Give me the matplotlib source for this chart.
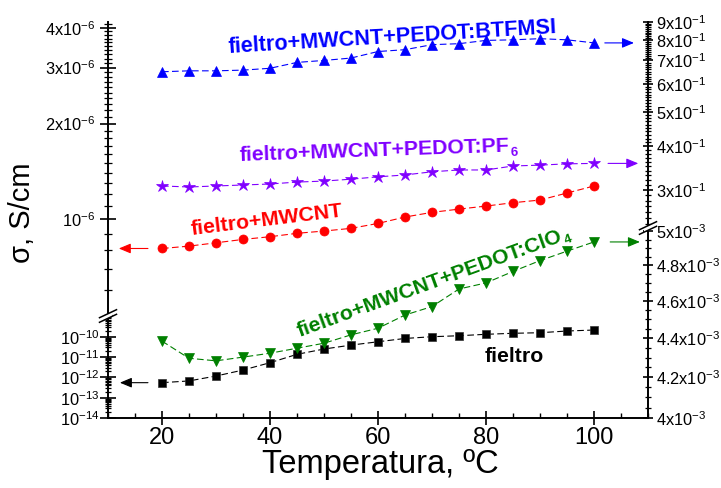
import numpy as np
import matplotlib
matplotlib.use("Agg")
import matplotlib.pyplot as plt
from matplotlib.ticker import FixedLocator, FixedFormatter, NullFormatter
from matplotlib.lines import Line2D
from matplotlib.patches import Polygon

plt.rcParams["font.family"] = ["Liberation Sans", "DejaVu Sans"]
plt.rcParams["mathtext.fontset"] = "custom"
plt.rcParams["mathtext.rm"] = "Liberation Sans"
plt.rcParams["mathtext.it"] = "Liberation Sans:italic"
plt.rcParams["mathtext.bf"] = "Liberation Sans:bold"
plt.rcParams["mathtext.default"] = "regular"

# ---- data: conductivity (S/cm) vs temperature (ºC) ----
temperature = [20, 25, 30, 35, 40, 45, 50, 55, 60, 65, 70, 75, 80, 85, 90, 95, 100]

sigma_fieltro = [5.5e-13, 6.7e-13, 1.17e-12, 2.3e-12, 5.3e-12, 1.37e-11, 2.5e-11,
                 3.9e-11, 5.7e-11, 8.3e-11, 1.01e-10, 1.13e-10, 1.33e-10, 1.49e-10,
                 1.59e-10, 1.93e-10, 2.16e-10]
sigma_mwcnt = [8.10e-7, 8.24e-7, 8.44e-7, 8.65e-7, 8.82e-7, 9.04e-7, 9.19e-7, 9.37e-7,
               9.71e-7, 1.017e-6, 1.052e-6, 1.077e-6, 1.101e-6, 1.128e-6, 1.150e-6,
               1.210e-6, 1.273e-6]
sigma_clo4 = [4.385e-3, 4.296e-3, 4.283e-3, 4.302e-3, 4.322e-3, 4.348e-3, 4.374e-3,
              4.418e-3, 4.453e-3, 4.524e-3, 4.570e-3, 4.667e-3, 4.701e-3, 4.766e-3,
              4.828e-3, 4.883e-3, 4.937e-3]
sigma_pf6 = [0.308, 0.306, 0.308, 0.310, 0.312, 0.316, 0.318, 0.322, 0.327, 0.331,
             0.338, 0.342, 0.342, 0.351, 0.353, 0.356, 0.357]
sigma_btfmsi = [0.650, 0.654, 0.654, 0.657, 0.665, 0.691, 0.700, 0.711, 0.742, 0.751,
                0.776, 0.781, 0.798, 0.801, 0.807, 0.801, 0.785]

x_major = [20, 40, 60, 80, 100]
lu_ticks = [1e-6, 2e-6, 3e-6, 4e-6]
lu_labels = ["$10^{-6}$", "2x10$^{-6}$", "3x10$^{-6}$", "4x10$^{-6}$"]
ll_ticks = [1e-14, 1e-13, 1e-12, 1e-11, 1e-10]
ll_labels = ["$10^{-14}$", "$10^{-13}$", "$10^{-12}$", "$10^{-11}$", "$10^{-10}$"]
ru_ticks = [0.3, 0.4, 0.5, 0.6, 0.7, 0.8, 0.9]
ru_labels = ["%dx10$^{-1}$" % k for k in range(3, 10)]
rl_ticks = [4.0e-3, 4.2e-3, 4.4e-3, 4.6e-3, 4.8e-3, 5.0e-3]
rl_labels = ["4x10$^{-3}$", "4.2x10$^{-3}$", "4.4x10$^{-3}$", "4.6x10$^{-3}$",
             "4.8x10$^{-3}$", "5x10$^{-3}$"]

C_BLUE, C_VIOLET, C_RED, C_GREEN, C_BLACK = "#0000ff", "#8000ff", "#ff0000", "#008000", "#000000"

# ---- figure geometry (pixels) ----
W, H = 721, 488
fig = plt.figure(figsize=(W / 100, H / 100), dpi=100)


def fx(x):
    return x / W


def fy(y):
    return 1 - y / H


def rect(l, t, r, b):
    return [fx(l), fy(b), fx(r) - fx(l), fy(t) - fy(b)]


L, R, T, B = 108, 648, 22, 418
LBRK, RBRK = 316, 228
SPW = 1.4
TICK_FS = 11.8

# base axes: temperature axis
ax = fig.add_axes(rect(L, T, R, B))
ax.set_xlim(10, 110)
ax.set_yticks([])
for s in ("left", "right", "top"):
    ax.spines[s].set_visible(False)
ax.spines["bottom"].set_linewidth(SPW)
ax.xaxis.set_major_locator(FixedLocator(x_major))
ax.xaxis.set_minor_locator(FixedLocator(np.arange(10, 111, 5)))
ax.tick_params(axis="x", which="major", direction="inout", length=9.5, width=1.2,
               labelsize=17, pad=1.8)
ax.tick_params(axis="x", which="minor", direction="in", length=3.8, width=1.0)
ax.patch.set_visible(False)


def overlay(top, bottom, side, ylim):
    a = fig.add_axes(rect(L, top, R, bottom))
    a.set_xlim(10, 110)
    a.set_yscale("log")
    a.set_ylim(*ylim)
    a.patch.set_visible(False)
    a.xaxis.set_visible(False)
    for s in ("left", "right", "top", "bottom"):
        a.spines[s].set_visible(s == side)
    a.spines[side].set_linewidth(SPW)
    if side == "right":
        a.yaxis.tick_right()
    return a


ax_lu = overlay(T, LBRK, "left", (4.97e-7, 4.17e-6))
ax_ll = overlay(LBRK, B, "left", (1e-14, 1.06e-9))
ax_ru = overlay(T, RBRK, "right", (0.234, 0.9))
ax_rl = overlay(RBRK, B, "right", (4.0e-3, 5.02e-3))


def set_ticks(a, major, labels, minor, maj_len, min_len, pad, side):
    a.yaxis.set_major_locator(FixedLocator(major))
    a.yaxis.set_major_formatter(FixedFormatter(labels))
    a.yaxis.set_minor_locator(FixedLocator(minor))
    a.yaxis.set_minor_formatter(NullFormatter())
    kw = dict(left=(side == "left"), right=(side == "right"),
              labelleft=(side == "left"), labelright=(side == "right"))
    a.tick_params(axis="y", which="major", direction="inout", length=maj_len, width=1.2,
                  labelsize=TICK_FS, pad=pad, **kw)
    a.tick_params(axis="y", which="minor", direction="inout", length=min_len, width=0.9, **kw)


lu_minor = [k * 1e-7 for k in range(5, 42) if k % 10]
set_ticks(ax_lu, lu_ticks, lu_labels, lu_minor, 12, 6, 3.4, "left")

ll_minor = [k * 10.0 ** d for d in range(-14, -9) for k in range(2, 10)]
set_ticks(ax_ll, ll_ticks, ll_labels, ll_minor, 11, 5, 0.8, "left")

ru_minor = [k * 0.01 for k in range(24, 91) if k % 10]
set_ticks(ax_ru, ru_ticks, ru_labels, ru_minor, 7, 4, 2.0, "right")

rl_minor = list(np.arange(4.0, 5.02, 0.05) * 1e-3)
set_ticks(ax_rl, rl_ticks, rl_labels, rl_minor, 7, 4, 2.0, "right")

# ---- series ----
dash = (0, (6, 3))
common = dict(lw=0.8, ls=dash, mew=0.5)
ax_ll.plot(temperature, sigma_fieltro, color=C_BLACK, marker="s", ms=6, mec="#333333", **common)
ax_lu.plot(temperature, sigma_mwcnt, color=C_RED, marker="o", ms=6.5, **common)
ax_rl.plot(temperature, sigma_clo4, color=C_GREEN, marker="v", ms=7.5, **common)
ax_ru.plot(temperature, sigma_pf6, color=C_VIOLET, marker="*", ms=9, **common)
ax_ru.plot(temperature, sigma_btfmsi, color=C_BLUE, marker="^", ms=7.5, **common)

# arrows pointing each series to its own axis
arrow_kw = dict(arrowstyle="-|>,head_length=0.6,head_width=0.25", lw=0.8,
                mutation_scale=12, shrinkA=0, shrinkB=0)
ax_ll.annotate("", xy=(12.2, sigma_fieltro[0]), xytext=(17.4, sigma_fieltro[0]),
               arrowprops=dict(color=C_BLACK, **arrow_kw))
ax_lu.annotate("", xy=(12.0, sigma_mwcnt[0]), xytext=(17.4, sigma_mwcnt[0]),
               arrowprops=dict(color=C_RED, **arrow_kw))
ax_rl.annotate("", xy=(108.5, sigma_clo4[-1]), xytext=(103.0, sigma_clo4[-1]),
               arrowprops=dict(color=C_GREEN, **arrow_kw))
ax_ru.annotate("", xy=(108.2, sigma_pf6[-1]), xytext=(102.6, sigma_pf6[-1]),
               arrowprops=dict(color=C_VIOLET, **arrow_kw))
ax_ru.annotate("", xy=(107.4, sigma_btfmsi[-1]), xytext=(102.0, sigma_btfmsi[-1]),
               arrowprops=dict(color=C_BLUE, **arrow_kw))

# ---- series labels ----
renderer = fig.canvas.get_renderer()


def series_label(x, y, text, color, rot, size=15.3, sub=None, sub_size=9.5, drop=4.0, gap=0.8):
    kw = dict(fontsize=size, fontweight="bold", ha="left", va="baseline",
              rotation_mode="anchor")
    fig.text(fx(x), fy(y), text, color=color, rotation=rot, **kw)
    if sub is None:
        return
    probe = fig.text(0, 0, text, fontsize=size, fontweight="bold")
    w = probe.get_window_extent(renderer).width
    probe.remove()
    th = np.deg2rad(rot)
    px = x + (w + gap) * np.cos(th) + drop * np.sin(th)
    py = (H - y) + (w + gap) * np.sin(th) - drop * np.cos(th)
    fig.text(px / W, py / H, sub, color=color, rotation=rot,
             **dict(kw, fontsize=sub_size))


series_label(229, 53, "fieltro+MWCNT+PEDOT:BTFMSI", C_BLUE, 3.5, size=15.6)
series_label(240, 161, "fieltro+MWCNT+PEDOT:PF", C_VIOLET, 2.0, sub="6")
series_label(192, 235, "fieltro+MWCNT", C_RED, 7.0)
series_label(300, 337, "fieltro+MWCNT+PEDOT:ClO", C_GREEN, 20.0, sub="4")
series_label(485, 362, "fieltro", C_BLACK, 0)

# ---- axis titles ----
fig.text(fx(22), fy(213), "σ, S/cm", fontsize=21, rotation=90, ha="center", va="center")
fig.text(fx(380), fy(465), "Temperatura, ºC", fontsize=23.5, ha="center", va="center")


# ---- axis break marks ----
def axis_break(xc, yc):
    dx, dy, gap = 8.5, 4.0, 2.3
    poly = Polygon([(fx(xc - 4), fy(yc - gap + 2)), (fx(xc + 4), fy(yc - gap - 2)),
                    (fx(xc + 4), fy(yc + gap - 2)), (fx(xc - 4), fy(yc + gap + 2))],
                   closed=True, transform=fig.transFigure, facecolor="white",
                   edgecolor="none", zorder=10)
    fig.patches.append(poly)
    for off in (-gap, gap):
        fig.lines.append(Line2D([fx(xc - dx), fx(xc + dx)],
                                [fy(yc + off + dy), fy(yc + off - dy)],
                                transform=fig.transFigure, color="black", lw=1.1,
                                zorder=11))


axis_break(L, LBRK)
axis_break(R, RBRK)

fig.savefig("out.png", dpi=100)
